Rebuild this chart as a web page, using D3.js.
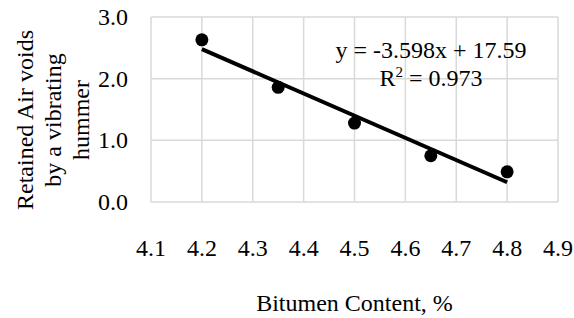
<!DOCTYPE html>
<html>
<head>
<meta charset="utf-8">
<script src="https://cdn.jsdelivr.net/npm/d3@7"></script>
<style>
  body { margin: 0; background: #fff; }
</style>
</head>
<body>
<div id="chart"></div>
<script>
// Data
const bitumen = [4.2, 4.35, 4.5, 4.65, 4.8];
const airVoids = [2.63, 1.86, 1.28, 0.75, 0.49];
const slope = -3.598;
const intercept = 17.59;
const xTicks = [4.1, 4.2, 4.3, 4.4, 4.5, 4.6, 4.7, 4.8, 4.9];
const yTicks = [0, 1, 2, 3];
const yTitleLines = ["Retained Air voids", "by a vibrating", "hummer"];

const width = 574, height = 318;
const margin = { left: 151, right: 16, top: 17, bottom: 116 };
const fontFamily = "'Liberation Serif', 'DejaVu Serif', 'Times New Roman', serif";

const svg = d3.select("#chart").append("svg")
  .attr("width", width)
  .attr("height", height)
  .attr("font-family", fontFamily)
  .style("font-family", fontFamily);

const x = d3.scaleLinear().domain([4.1, 4.9]).range([margin.left, width - margin.right]);
const y = d3.scaleLinear().domain([0, 3]).range([height - margin.bottom, margin.top]);

// Gridlines
svg.selectAll(".vgrid")
  .data(xTicks)
  .enter().append("line")
  .attr("x1", d => x(d)).attr("x2", d => x(d))
  .attr("y1", y(0)).attr("y2", y(3))
  .attr("stroke", "#d9d9d9").attr("stroke-width", 1.5);

svg.selectAll(".hgrid")
  .data(yTicks)
  .enter().append("line")
  .attr("x1", x(4.1)).attr("x2", x(4.9))
  .attr("y1", d => y(d)).attr("y2", d => y(d))
  .attr("stroke", "#d9d9d9").attr("stroke-width", 1.5);

// Tick labels
svg.selectAll(".ylab")
  .data(yTicks)
  .enter().append("text")
  .attr("x", 128)
  .attr("y", d => y(d) + 8)
  .attr("text-anchor", "end")
  .attr("font-size", 24)
  .text(d => d.toFixed(1));

svg.selectAll(".xlab")
  .data(xTicks)
  .enter().append("text")
  .attr("x", d => x(d))
  .attr("y", 256)
  .attr("text-anchor", "middle")
  .attr("font-size", 24)
  .text(d => d.toFixed(1));

// Axis titles
svg.append("text")
  .attr("x", x(4.5))
  .attr("y", 311)
  .attr("text-anchor", "middle")
  .attr("font-size", 24)
  .text("Bitumen Content, %");

const yTitle = svg.append("g")
  .attr("transform", "translate(25,120) rotate(-90)");
yTitle.selectAll("text")
  .data(yTitleLines)
  .enter().append("text")
  .attr("x", 0)
  .attr("y", (d, i) => i * 28 + 8)
  .attr("text-anchor", "middle")
  .attr("font-size", 24)
  .text(d => d);

// Trendline
const xExt = d3.extent(bitumen);
svg.append("line")
  .attr("x1", x(xExt[0])).attr("y1", y(slope * xExt[0] + intercept))
  .attr("x2", x(xExt[1])).attr("y2", y(slope * xExt[1] + intercept))
  .attr("stroke", "#000").attr("stroke-width", 4);

// Points
svg.selectAll(".pt")
  .data(bitumen)
  .enter().append("circle")
  .attr("cx", d => x(d))
  .attr("cy", (d, i) => y(airVoids[i]))
  .attr("r", 6.5)
  .attr("fill", "#000");

// Equation
svg.append("text")
  .attr("x", 431).attr("y", 58)
  .attr("text-anchor", "middle")
  .attr("font-size", 24)
  .text("y = -3.598x + 17.59");

const r2 = svg.append("text")
  .attr("x", 431).attr("y", 86)
  .attr("text-anchor", "middle")
  .attr("font-size", 24);
r2.append("tspan").text("R");
r2.append("tspan").attr("dy", -9).attr("font-size", 15).text("2");
r2.append("tspan").attr("dy", 9).text(" = 0.973");
</script>
</body>
</html>
